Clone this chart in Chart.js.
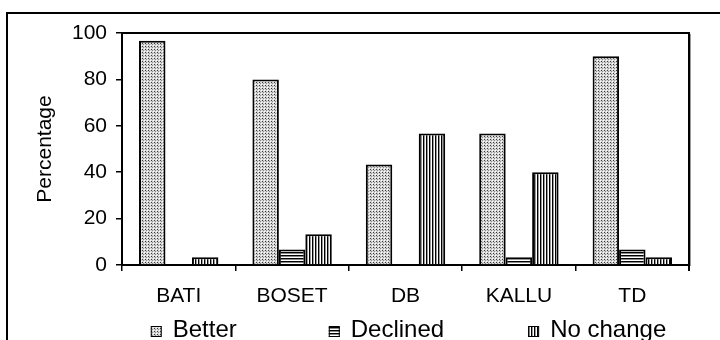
<!DOCTYPE html>
<html>
<head>
<meta charset="utf-8">
<script src="https://cdn.jsdelivr.net/npm/chart.js@4/dist/chart.umd.min.js"></script>
<style>
  html, body { margin: 0; padding: 0; background: #fff; }
  #wrap { position: relative; width: 720px; height: 340px; overflow: hidden; }
  canvas { display: block; }
</style>
</head>
<body>
<div id="wrap"><canvas id="c" width="720" height="340"></canvas></div>
<script>
// Sites surveyed and share of respondents (%) per perceived change
const categories = ['BATI', 'BOSET', 'DB', 'KALLU', 'TD'];
const better     = [96.7, 80, 43.3, 56.7, 90];
const declined   = [0, 6.7, 0, 3.3, 6.7];
const noChange   = [3.3, 13.3, 56.7, 40, 3.3];
const seriesLabels = ['Better', 'Declined', 'No change'];
const yTicks = [0, 20, 40, 60, 80, 100];

const FONT = 'Liberation Sans, Arial, sans-serif';

// Monochrome fill patterns: dotted, horizontal hatch, vertical hatch
function makePattern(w, h, paint) {
  const c = document.createElement('canvas');
  c.width = w; c.height = h;
  const g = c.getContext('2d');
  g.fillStyle = '#fff';
  g.fillRect(0, 0, w, h);
  paint(g);
  return document.getElementById('c').getContext('2d').createPattern(c, 'repeat');
}
const dotted = makePattern(3, 3, g => {
  g.fillStyle = '#d6d6d6';
  g.fillRect(0, 0, 3, 3);
  g.fillStyle = '#ffffff';
  g.fillRect(0, 0, 1, 1);
  g.fillStyle = '#3a3a3a';
  g.fillRect(1, 1, 1, 1);
  g.fillStyle = '#8c8c8c';
  g.fillRect(2, 2, 1, 1);
});
const hLines = makePattern(3, 3, g => {
  g.fillStyle = '#000';
  g.fillRect(0, 0, 3, 1);
  g.fillStyle = '#888';
  g.fillRect(0, 1, 3, 1);
});
const vLines = makePattern(3, 3, g => {
  g.fillStyle = '#000';
  g.fillRect(0, 0, 1, 3);
  g.fillStyle = '#999';
  g.fillRect(1, 0, 1, 3);
});

// Outer frame of the figure
const outerFrame = {
  id: 'outerFrame',
  beforeDraw(chart) {
    const ctx = chart.ctx;
    ctx.save();
    ctx.strokeStyle = '#000';
    ctx.lineWidth = 2;
    ctx.beginPath();
    ctx.moveTo(7, 345);
    ctx.lineTo(7, 13);
    ctx.lineTo(730, 13);
    ctx.stroke();
    ctx.restore();
  }
};

// Top and right edges of the plot box
const plotFrame = {
  id: 'plotFrame',
  afterDraw(chart) {
    const { ctx, chartArea: a } = chart;
    ctx.save();
    ctx.strokeStyle = '#999';
    ctx.lineWidth = 1;
    ctx.beginPath();
    ctx.moveTo(a.right + 1.5, a.top + 1);
    ctx.lineTo(a.right + 1.5, a.bottom + 1);
    ctx.stroke();
    ctx.strokeStyle = '#000';
    ctx.lineWidth = 2;
    ctx.beginPath();
    ctx.moveTo(a.left, a.top);
    ctx.lineTo(a.right, a.top);
    ctx.lineTo(a.right, a.bottom + 6);
    ctx.stroke();
    ctx.restore();
  }
};

// Legend row under the category labels, centred on the plot box
const bottomLegend = {
  id: 'bottomLegend',
  afterDraw(chart) {
    const { ctx, chartArea: a } = chart;
    const size = 24, box = 11, boxGap = 11, gaps = [92, 84], baseline = 337, shift = 3;
    ctx.save();
    ctx.font = size + 'px ' + FONT;
    const items = chart.data.datasets.map(ds => ({
      label: ds.label, fill: ds.backgroundColor, w: ctx.measureText(ds.label).width
    }));
    const total = items.reduce((s, it) => s + box + boxGap + it.w, 0) + gaps[0] + gaps[1];
    let x = (a.left + a.right) / 2 - total / 2 + shift;
    items.forEach((it, i) => {
      ctx.fillStyle = it.fill;
      ctx.fillRect(x, baseline - box, box, box);
      ctx.strokeStyle = '#000';
      ctx.lineWidth = 1;
      ctx.strokeRect(x + 0.5, baseline - box + 0.5, box - 1, box - 1);
      ctx.fillStyle = '#000';
      ctx.textBaseline = 'alphabetic';
      ctx.fillText(it.label, x + box + boxGap, baseline);
      x += box + boxGap + it.w + (gaps[i] || 0);
    });
    ctx.restore();
  }
};

const barStyle = { borderColor: '#000', borderWidth: 2, barPercentage: 1, categoryPercentage: 0.7 };

new Chart(document.getElementById('c'), {
  type: 'bar',
  data: {
    labels: categories,
    datasets: [
      Object.assign({ label: seriesLabels[0], data: better,   backgroundColor: dotted }, barStyle),
      Object.assign({ label: seriesLabels[1], data: declined, backgroundColor: hLines }, barStyle),
      Object.assign({ label: seriesLabels[2], data: noChange, backgroundColor: vLines }, barStyle)
    ]
  },
  options: {
    responsive: false,
    animation: false,
    devicePixelRatio: 1,
    layout: { padding: { top: 33, right: 31, left: 0, bottom: 0 } },
    plugins: {
      legend: { display: false },
      tooltip: { enabled: false }
    },
    scales: {
      x: {
        offset: true,
        grid: { offset: true, drawOnChartArea: false, drawTicks: true, tickLength: 6, color: '#000', lineWidth: 1.5 },
        border: { display: true, color: '#000', width: 2 },
        ticks: { color: '#000', font: { family: FONT, size: 21 }, padding: 13, maxRotation: 0 },
        afterFit(scale) { scale.height = 75; }
      },
      y: {
        min: 0, max: 100,
        afterBuildTicks(scale) { scale.ticks = yTicks.map(v => ({ value: v })); },
        grid: { drawOnChartArea: false, drawTicks: true, tickLength: 6, color: '#000', lineWidth: 1.5 },
        border: { display: true, color: '#000', width: 2 },
        ticks: { color: '#000', font: { family: FONT, size: 21 }, padding: 9 },
        title: {
          display: true, text: 'Percentage', color: '#000',
          font: { family: FONT, size: 21 },
          padding: { top: 33, bottom: 0 }
        },
        afterFit(scale) { scale.width = 122; }
      }
    }
  },
  plugins: [outerFrame, plotFrame, bottomLegend]
});
</script>
</body>
</html>
